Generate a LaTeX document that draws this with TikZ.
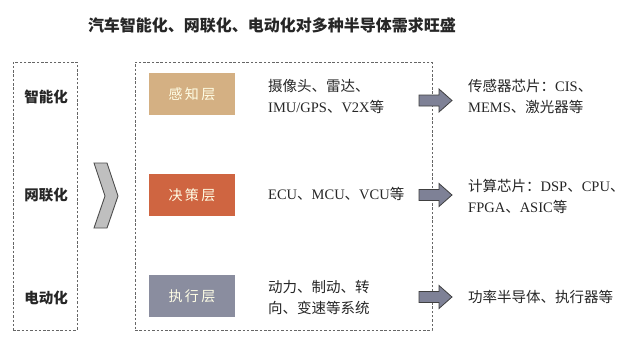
\documentclass[tikz,border=0pt]{standalone}
\usepackage{fontspec}
\setmainfont{Liberation Serif}
\newfontfamily\cjk{Noto Sans CJK SC}
\begin{document}
\begin{tikzpicture}[x=1pt,y=-1pt,
  dashbox/.style={draw=black!60,line width=0.8pt,dash pattern=on 2.5pt off 1.8pt,minimum height=268,inner sep=0},
  layerbox/.style={minimum width=86,minimum height=42,inner sep=0,text=white!90!yellow,font=\cjk\fontsize{14}{16}\selectfont},
  sidelabel/.style={font=\cjk\bfseries\fontsize{14.5}{17}\selectfont,text=black!85},
  bodytext/.style={anchor=west,align=left,text=black!85,font=\fontsize{14.5}{21}\selectfont,inner sep=0},
  blockarrow/.style={draw=black!75,fill={rgb,255:red,126;green,129;blue,150},line width=0.8pt,line join=miter}
]
\useasboundingbox (0,0) rectangle (625,340);
\fill[white] (0,0) rectangle (625,340);

\node[font=\cjk\bfseries\fontsize{16}{20}\selectfont,text=black!85] (title) at (272,25) {汽车智能化、网联化、电动化对多种半导体需求旺盛};

\node[dashbox,minimum width=64] (lbox) at (45,196) {};
\node[dashbox,minimum width=297] (rbox) at (283.5,196) {};

\node[sidelabel] (s1) at (46,97) {智能化};
\node[sidelabel] (s2) at (46,195) {网联化};
\node[sidelabel] (s3) at (46,298) {电动化};

\draw[draw=black!70,fill=black!25,line width=0.9pt,line join=miter] (94,163) -- (107,163) -- (118,196) -- (107,228) -- (94,228) -- (105,196) -- cycle;

\node[layerbox,fill={rgb,255:red,212;green,176;blue,131}] (l1) at (192,94) {感\,知\,层};
\node[layerbox,fill={rgb,255:red,207;green,101;blue,65}] (l2) at (192,195) {决\,策\,层};
\node[layerbox,fill={rgb,255:red,138;green,141;blue,159}] (l3) at (192,296) {执\,行\,层};

\node[bodytext] (m1) at (268,96) {{\cjk 摄像头、雷达、}\\IMU/GPS{\cjk 、}V2X{\cjk 等}};
\node[bodytext] (m2) at (268,194) {ECU{\cjk 、}MCU{\cjk 、}VCU{\cjk 等}};
\node[bodytext] (m3) at (268,298) {{\cjk 动力、制动、转}\\{\cjk 向、变速等系统}};

\foreach \i/\y in {1/100.5,2/195,3/297}{
  \coordinate (a\i) at (419,\y);
  \draw[blockarrow] (a\i) ++(0,-5.5) -- ++(20,0) -- ++(0,-6) -- ++(13,11.5) -- ++(-13,11.5) -- ++(0,-6) -- ++(-20,0) -- cycle;
}

\node[bodytext] (r1) at (468,96) {{\cjk 传感器芯片：}CIS{\cjk 、}\\MEMS{\cjk 、激光器等}};
\node[bodytext] (r2) at (468,196) {{\cjk 计算芯片：}DSP{\cjk 、}CPU{\cjk 、}\\FPGA{\cjk 、}ASIC{\cjk 等}};
\node[bodytext] (r3) at (468,297) {{\cjk 功率半导体、执行器等}};
\end{tikzpicture}
\end{document}
